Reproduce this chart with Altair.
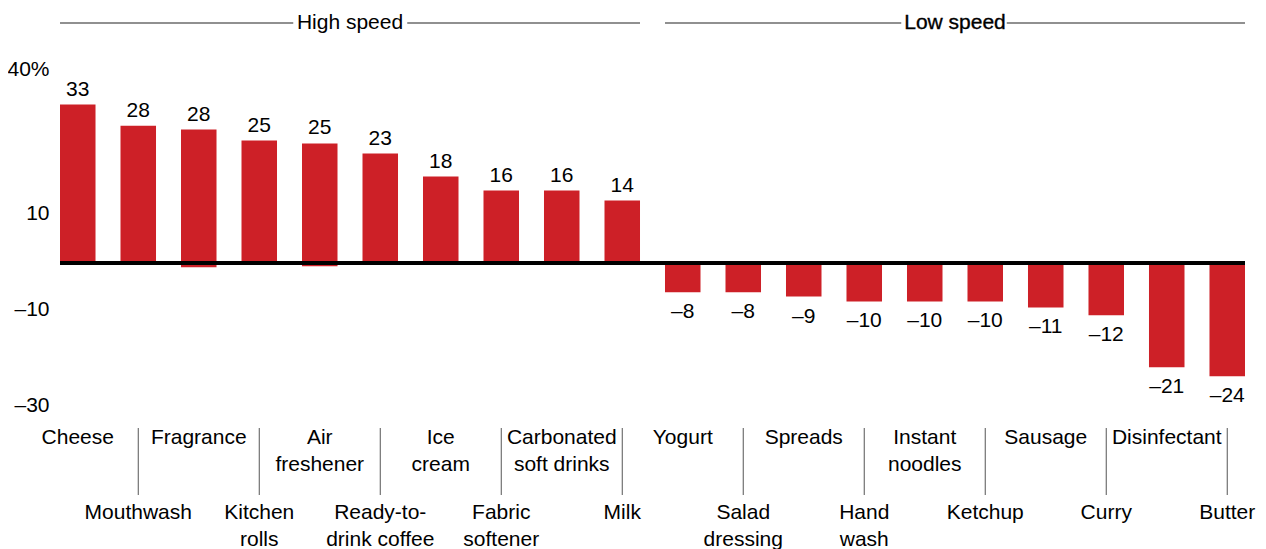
import altair as alt
import pandas as pd

categories = ["Cheese", "Mouthwash", "Fragrance", "Kitchen rolls", "Air freshener",
              "Ready-to-drink coffee", "Ice cream", "Fabric softener",
              "Carbonated soft drinks", "Milk", "Yogurt", "Salad dressing", "Spreads",
              "Hand wash", "Instant noodles", "Ketchup", "Sausage", "Curry",
              "Disinfectant", "Butter"]
tick_labels = ["Cheese", "Mouthwash", "Fragrance", "Kitchen\nrolls", "Air\nfreshener",
               "Ready-to-\ndrink coffee", "Ice\ncream", "Fabric\nsoftener",
               "Carbonated\nsoft drinks", "Milk", "Yogurt", "Salad\ndressing", "Spreads",
               "Hand\nwash", "Instant\nnoodles", "Ketchup", "Sausage", "Curry",
               "Disinfectant", "Butter"]
# bar heights as drawn in the picture
bar_values = [33.0, 28.6, 27.8, 25.5, 24.9, 22.8, 18.0, 15.1, 15.1, 13.0,
              -6.1, -6.1, -7.0, -8.0, -8.0, -8.0, -9.25, -10.9, -21.7, -23.6]
bar_bases = [0, 0, -0.9, 0, -0.7, 0, 0, 0, 0, 0,
             0, 0, 0, 0, 0, 0, 0, 0, 0, 0]
value_labels = ["33", "28", "28", "25", "25", "23", "18", "16", "16", "14",
                "–8", "–8", "–9", "–10", "–10", "–10", "–11", "–12", "–21", "–24"]
group_names = ["High speed", "Low speed"]
group_size = 10
y_ticks = [40, 10, -10, -30]

RED = "#cd2027"
FONT = "Liberation Sans"

df = pd.DataFrame({
    "cat": categories,
    "tick": tick_labels,
    "value": bar_values,
    "base": bar_bases,
    "vlabel": value_labels,
    "row": ["top" if i % 2 == 0 else "bottom" for i in range(len(categories))],
})

hdr = pd.DataFrame({
    "group": group_names,
    "first": [categories[g * group_size] for g in range(len(group_names))],
    "midl": [categories[g * group_size + 4] for g in range(len(group_names))],
    "midr": [categories[g * group_size + 5] for g in range(len(group_names))],
    "last": [categories[g * group_size + 9] for g in range(len(group_names))],
})

xscale = alt.Scale(domain=categories, paddingInner=0.413, paddingOuter=0)
yscale = alt.Scale(domain=[-30, 40], nice=False, zero=False)

X = alt.X("cat:N", scale=xscale, axis=None, sort=categories)

bars = alt.Chart(df).mark_bar(color=RED).encode(
    x=X,
    y=alt.Y("value:Q", scale=yscale,
            axis=alt.Axis(values=y_ticks, title=None, domain=False, ticks=False,
                          tickSize=0, grid=False, labelPadding=11, labelOffset=-2,
                          labelFontSize=21, labelFont=FONT, labelColor="#000",
                          labelExpr="datum.value == 40 ? '40%' : (datum.value < 0 ? '–' + abs(datum.value) : '' + datum.value)")),
    y2="base:Q",
)

zero = alt.Chart(df).mark_rule(color="#000", strokeWidth=2.5).encode(
    y=alt.datum(0, scale=yscale)
)

pos_lab = alt.Chart(df).transform_filter("datum.value >= 0").mark_text(
    fontSize=21, font=FONT, color="#000", baseline="alphabetic", dy=-9
).encode(x=X, y=alt.Y("value:Q", scale=yscale), text="vlabel:N")

neg_lab = alt.Chart(df).transform_filter("datum.value < 0").mark_text(
    fontSize=21, font=FONT, color="#000", baseline="alphabetic", dy=26
).encode(x=X, y=alt.Y("value:Q", scale=yscale), text="vlabel:N")

top_ticks = alt.Chart(df).transform_filter("datum.row == 'top'").mark_text(
    fontSize=21, font=FONT, color="#000", baseline="alphabetic",
    lineBreak="\n", lineHeight=26.4
).encode(x=X, y=alt.value(373.3), text="tick:N")

bot_ticks = alt.Chart(df).transform_filter("datum.row == 'bottom'").mark_text(
    fontSize=21, font=FONT, color="#000", baseline="alphabetic",
    lineBreak="\n", lineHeight=26.4
).encode(x=X, y=alt.value(448.3), text="tick:N")

seps = alt.Chart(df).transform_filter("datum.row == 'bottom'").mark_rule(
    color="#555", strokeWidth=1
).encode(x=X, y=alt.value(357), y2=alt.value(424))

# header style per group: (gap offsets around the title, text stroke)
hdr_style = {
    "High speed": {"left_end": -26.5, "right_start": 27.0, "stroke": 0},
    "Low speed": {"left_end": -23.5, "right_start": 21.5, "stroke": 0.35},
}

hdr_layers = []
for name in group_names:
    st = hdr_style[name]
    base = alt.Chart(hdr).transform_filter(alt.datum.group == name)
    hdr_layers.append(base.mark_rule(color="#222", strokeWidth=1.1,
                                     xOffset=-17.75, x2Offset=st["left_end"]).encode(
        x=alt.X("first:N", scale=xscale, axis=None),
        x2="midl:N",
        y=alt.value(-48),
    ))
    hdr_layers.append(base.mark_rule(color="#222", strokeWidth=1.1,
                                     xOffset=st["right_start"], x2Offset=17.75).encode(
        x=alt.X("midr:N", scale=xscale, axis=None),
        x2="last:N",
        y=alt.value(-48),
    ))
    text_kw = dict(fontSize=21, font=FONT, color="#000", baseline="alphabetic", xOffset=30.25)
    if st["stroke"] > 0:
        text_kw.update(stroke="#000", strokeWidth=st["stroke"])
    hdr_layers.append(base.mark_text(**text_kw).encode(
        x=alt.X("midl:N", scale=xscale, axis=None),
        y=alt.value(-42),
        text="group:N",
    ))

chart = alt.layer(
    bars, zero, pos_lab, neg_lab, seps, top_ticks, bot_ticks, *hdr_layers
).properties(
    width=1185, height=336,
    padding={"left": 52, "top": 63, "right": 13, "bottom": 145},
    autosize="none",
).configure(font=FONT).configure_view(stroke=None)

chart.save("out.html", embed_options={"renderer": "svg", "actions": False})
